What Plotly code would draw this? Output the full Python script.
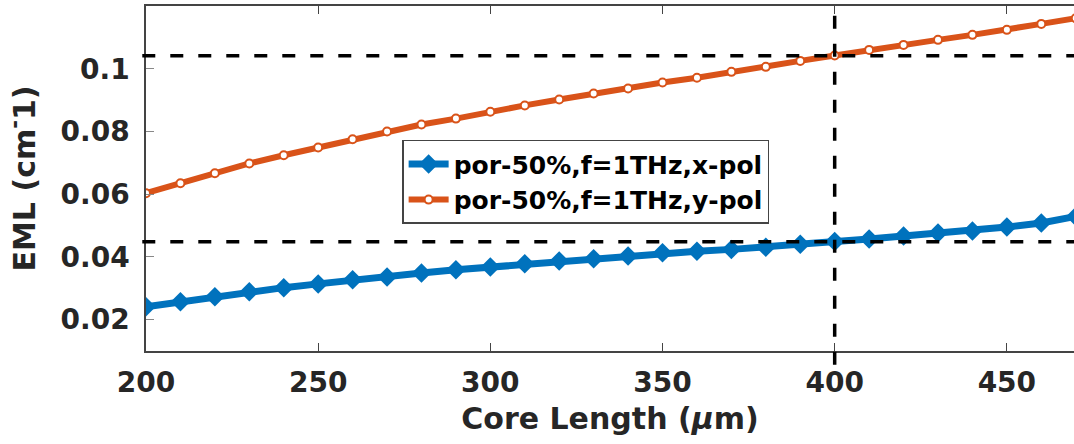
import plotly.graph_objects as go

core_length = [200, 210, 220, 230, 240, 250, 260, 270, 280, 290, 300, 310, 320, 330,
               340, 350, 360, 370, 380, 390, 400, 410, 420, 430, 440, 450, 460, 470]
eml_xpol = [0.0241, 0.0257, 0.0273, 0.0289, 0.0302, 0.0314, 0.0327, 0.0336, 0.0349,
            0.0359, 0.0368, 0.0378, 0.0387, 0.0394, 0.0403, 0.0413, 0.0418, 0.0424,
            0.0431, 0.0440, 0.0449, 0.0457, 0.0467, 0.0476, 0.0483, 0.0495, 0.0508, 0.0529]
eml_ypol = [0.0603, 0.0635, 0.0667, 0.0698, 0.0724, 0.0749, 0.0775, 0.0800, 0.0822,
            0.0841, 0.0863, 0.0883, 0.0902, 0.0921, 0.0937, 0.0956, 0.0971, 0.0990,
            0.1006, 0.1025, 0.1042, 0.1060, 0.1076, 0.1092, 0.1108, 0.1124, 0.1143, 0.1161]
names = ["por-50%,f=1THz,x-pol", "por-50%,f=1THz,y-pol"]
ref_x = 400
ref_y_x = 0.0448
ref_y_y = 0.1041
x_ticks = [200, 250, 300, 350, 400, 450]
y_ticks = [0.02, 0.04, 0.06, 0.08, 0.1]
y_ticklabels = ["0.02", "0.04", "0.06", "0.08", "0.1"]

FONT = "DejaVu Sans"
TXT = "#262626"

fig = go.Figure()
fig.add_trace(go.Scatter(
    x=core_length, y=eml_xpol, name=names[0], mode="lines+markers",
    line=dict(color="#0072BD", width=7),
    marker=dict(symbol="diamond", size=15, color="#0072BD"),
))
fig.add_trace(go.Scatter(
    x=core_length, y=eml_ypol, name=names[1], mode="lines+markers",
    line=dict(color="#D95319", width=6),
    marker=dict(symbol="circle", size=8, color="white", line=dict(color="#D95319", width=2)),
))

dash = dict(color="black", width=3.5, dash="13px,15px")
fig.add_shape(type="line", xref="paper", yref="y", x0=-0.004, x1=1, y0=ref_y_y, y1=ref_y_y,
              line=dash, layer="above")
fig.add_shape(type="line", xref="paper", yref="y", x0=-0.004, x1=1, y0=ref_y_x, y1=ref_y_x,
              line=dash, layer="above")
fig.add_shape(type="line", xref="x", yref="paper", x0=ref_x, x1=ref_x, y0=-0.04, y1=0.98,
              line=dash, layer="above")

fig.update_layout(
    width=1074, height=444,
    margin=dict(l=146, r=0, t=6, b=93),
    paper_bgcolor="white", plot_bgcolor="white",
    showlegend=True,
    legend=dict(
        x=0.276, y=0.612, xanchor="left", yanchor="top",
        bgcolor="white", bordercolor="#444444", borderwidth=1.5,
        font=dict(family=FONT, size=25, color="black", weight="bold"),
        itemwidth=40, tracegroupgap=0,
    ),
    xaxis=dict(
        range=[200, 469.5], tickvals=x_ticks, ticktext=[str(v) for v in x_ticks],
        showgrid=False, zeroline=False,
        showline=True, linecolor="#444444", linewidth=1.5, mirror="ticks",
        ticks="inside", ticklen=8, tickcolor="#444444", tickwidth=1,
        tickfont=dict(family=FONT, size=28, color=TXT, weight="bold"),
        ticklabelstandoff=6,
        title=dict(text="Core Length (<i>μ</i>m)",
                   font=dict(family=FONT, size=30, color=TXT, weight="bold"), standoff=10),
    ),
    yaxis=dict(
        range=[0.01, 0.12], tickvals=y_ticks, ticktext=y_ticklabels,
        showgrid=False, zeroline=False,
        showline=True, linecolor="#444444", linewidth=1.5,
        ticks="inside", ticklen=8, tickcolor="#888888", tickwidth=1,
        tickfont=dict(family=FONT, size=28, color=TXT, weight="bold"),
        ticklabelstandoff=9,
        title=dict(text="EML (cm<sup>-</sup>1)",
                   font=dict(family=FONT, size=30, color=TXT, weight="bold"), standoff=16),
    ),
)

fig.write_html("out.html")
